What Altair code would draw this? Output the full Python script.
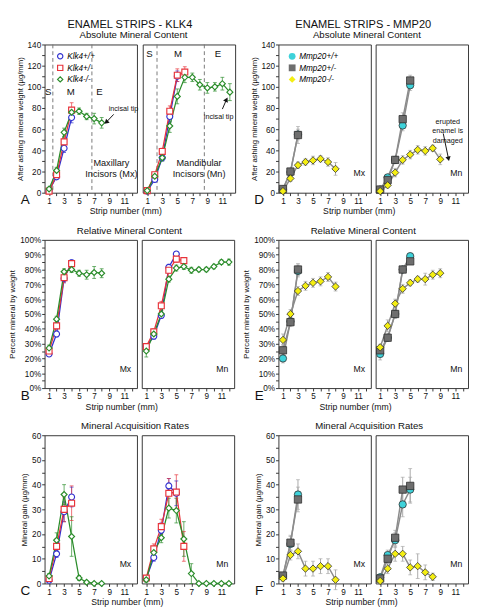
import altair as alt
import pandas as pd

FONT = "Liberation Sans"
STRIPS = list(range(1, 13))
KLK4_GENOS = ["Klk4+/+", "Klk4+/-", "Klk4-/-"]
MMP20_GENOS = ["Mmp20+/+", "Mmp20+/-", "Mmp20-/-"]

# ---------------- A: absolute mineral content, KLK4 (µg/mm) ----------------
A_MX_WT, A_MX_WT_SE = [2, 15, 42, 71], [1, 2, 4, 5]
A_MX_HET, A_MX_HET_SE = [1.5, 17, 48, 78], [1, 2, 4, 7]
A_MX_KO, A_MX_KO_SE = [3.5, 21, 57, 76, 77, 72, 70, 66], [1.5, 3, 4, 4, 3, 3, 5, 5]
A_MN_WT, A_MN_WT_SE = [1.5, 12.5, 33, 72, 110], [1, 2, 3, 5, 5]
A_MN_HET, A_MN_HET_SE = [2, 17, 39, 77, 111, 114], [1, 2, 3, 5, 6, 5]
A_MN_KO = [2, 15.5, 33, 63, 91, 109, 109, 102, 99, 100, 103, 95]
A_MN_KO_SE = [1, 2, 3, 6, 7, 5, 4, 5, 5, 4, 6, 8]

# ---------------- B: relative mineral content, KLK4 (%) ----------------
B_MX_WT, B_MX_WT_SE = [23, 36.5, 74, 84.5], [1.5, 2, 3, 2]
B_MX_HET, B_MX_HET_SE = [25, 42, 74.5, 84], [2, 2, 3, 1.5]
B_MX_KO, B_MX_KO_SE = [27, 46.5, 78.5, 80, 77.5, 76.5, 78, 77.5], [2, 2, 2, 2, 2, 3, 4, 3]
B_MN_WT, B_MN_WT_SE = [28, 35, 49, 81.5, 90.5], [2, 2, 2, 2, 1.5]
B_MN_HET, B_MN_HET_SE = [28, 38, 55.5, 79.5, 87, 86], [2, 2, 3, 2, 2, 1.5]
B_MN_KO = [25, 36.5, 50, 73.5, 81, 82, 79.5, 80, 80, 82, 85, 85]
B_MN_KO_SE = [4, 2, 2, 2, 2, 2, 2, 1.5, 1.5, 1.5, 1.5, 2]

# ---------------- C: mineral acquisition rates, KLK4 (µg/mm) ----------------
C_MX_WT, C_MX_WT_SE = [1.3, 12, 29, 35], [1, 1.5, 4, 4]
C_MX_HET, C_MX_HET_SE = [2, 15, 30, 32.5], [1, 3, 5, 7]
C_MX_KO, C_MX_KO_SE = [3, 17.5, 36, 19, 2.2, 0.5, 0, 0], [1, 3, 4, 8, 1, 0.5, 0, 0]
C_MN_WT, C_MN_WT_SE = [2, 10.5, 21.5, 39.5, 36.5], [1, 1.5, 3, 3, 5]
C_MN_HET, C_MN_HET_SE = [2.2, 14, 23, 36.5, 37, 15], [1, 2, 3, 6, 7, 6]
C_MN_KO = [1.5, 12.5, 18.5, 30.5, 29.5, 18, 4, 0, 0, 0, 0, 0]
C_MN_KO_SE = [1, 2, 2, 4, 5, 7, 4, 0.5, 0, 0, 0, 0]

# ---------------- D: absolute mineral content, MMP20 (µg/mm) ----------------
D_MX_WT, D_MX_WT_SE = [3, 19.5, 55], [1, 2, 5]
D_MX_HET, D_MX_HET_SE = [3.5, 20, 54.5], [1, 3, 8]
D_MX_KO, D_MX_KO_SE = [1.5, 13.5, 26, 29, 30.5, 32, 29, 22.5], [1, 3, 3, 3, 4, 3, 4, 6]
D_MN_WT, D_MN_WT_SE = [3, 14.5, 31, 63.5, 101.5], [1, 2, 3, 5, 5]
D_MN_HET, D_MN_HET_SE = [3, 12, 31, 69.5, 106], [1, 2, 3, 6, 5]
D_MN_KO, D_MN_KO_SE = [1.5, 7, 19, 31, 36, 40.5, 39.5, 42, 31.5], [1, 2, 4, 4, 4, 4, 4, 3, 5]

# ---------------- E: relative mineral content, MMP20 (%) ----------------
E_MX_WT, E_MX_WT_SE = [20, 45, 79], [3, 3, 4]
E_MX_HET, E_MX_HET_SE = [25.5, 44.5, 80], [4, 3, 4]
E_MX_KO, E_MX_KO_SE = [32.5, 50, 65.5, 69, 71, 72, 75, 68.5], [4, 3, 3, 3, 3, 3, 3, 3]
E_MN_WT, E_MN_WT_SE = [23, 34, 50, 80, 89], [4, 2, 2, 2, 2]
E_MN_HET, E_MN_HET_SE = [25.5, 34, 50, 80, 85.5], [2, 2, 3, 2, 2]
E_MN_KO, E_MN_KO_SE = [27.5, 42, 57, 67, 71, 73.5, 73.5, 76.5, 77.5], [2, 4, 3, 3, 2, 2, 4, 3, 3]

# ---------------- F: mineral acquisition rates, MMP20 (µg/mm) ----------------
F_MX_WT, F_MX_WT_SE = [3, 16, 36], [1, 3, 6]
F_MX_HET, F_MX_HET_SE = [3.2, 16.5, 34], [1, 3, 5]
F_MX_KO, F_MX_KO_SE = [2, 11.5, 13, 6, 6, 7, 7, 1.5], [1, 2, 3, 3, 3, 3, 3, 4]
F_MN_WT, F_MN_WT_SE = [2.5, 11.5, 17.5, 32, 38], [1, 2, 3, 5, 5]
F_MN_HET, F_MN_HET_SE = [2, 10, 18.5, 38, 39.5], [1, 2, 3, 5, 7]
F_MN_KO, F_MN_KO_SE = [1, 6, 12, 12, 6.5, 7, 4.5, 2.7], [0.5, 2, 3, 3, 3, 5, 3, 1.5]

# ---------------- annotations (data units) ----------------
A_MX_ZONE_LINES = [1.5, 6.7]
A_MN_ZONE_LINES = [2.3, 8.6]
ZONE_NAMES = ["S", "M", "E"]
A_MX_ZONE_X, A_MX_ZONE_Y = [0.9, 3.9, 7.7], 95
A_MN_ZONE_X, A_MN_ZONE_Y = [1.3, 5.1, 10.4], 131

KLK_COLORS = ["#3030d0", "#e8333a", "#2a8c2a"]
KLK_SHAPES = ["circle", "square", "diamond"]
MMP_FILLS = ["#3ed2da", "#6e6e6e", "#f4ee12"]
MMP_SHAPES = ["circle", "square", "diamond"]

W, H = 96, 154
XDOM = [0.4, 12.7]


def series(genos, triples):
    rows = []
    for g, (vals, errs) in zip(genos, triples):
        for i, (v, e) in enumerate(zip(vals, errs)):
            rows.append(dict(geno=g, strip=STRIPS[i], v=v, lo=v - e, hi=v + e))
    return pd.DataFrame(rows)


def indep(c):
    return c.resolve_scale(color="independent", stroke="independent", fill="independent",
                           shape="independent")


def make_sub(df, fam, ymax, tstep, lstep, suffix, ytitle, first, corner=None, letter=None,
             legend=False, extras=None):
    def X(field="strip"):
        return alt.X(f"{field}:Q", scale=alt.Scale(domain=XDOM, nice=False, zero=False),
                     axis=alt.Axis(values=STRIPS,
                                   labelExpr="datum.value % 2 == 1 ? datum.label : ''",
                                   title=None))

    def Y(field="v"):
        if first:
            ax = alt.Axis(values=list(range(0, ymax + 1, tstep)),
                          labelExpr=f"datum.value % {lstep} == 0 ? datum.value + '{suffix}' : ''",
                          title=ytitle)
        else:
            ax = None
        return alt.Y(f"{field}:Q", scale=alt.Scale(domain=[0, ymax], nice=False), axis=ax)

    base = alt.Chart(df)
    layers = []
    if extras:
        layers += extras(X, Y, pre=True)
    if fam == "klk":
        genos = KLK4_GENOS
        col = alt.Color("geno:N", scale=alt.Scale(domain=genos, range=KLK_COLORS), legend=None)
        layers.append(base.mark_rule(strokeWidth=1, opacity=0.7).encode(
            x=X(), y=Y("lo"), y2="hi:Q", color=col))
        for f in ("lo", "hi"):
            layers.append(base.mark_tick(orient="horizontal", size=4, thickness=1, opacity=0.7).encode(
                x=X(), y=Y(f), color=col))
        layers.append(base.mark_line(strokeWidth=1.3).encode(x=X(), y=Y(), color=col))
        if legend:
            leg = alt.Legend(title=None, orient="none", legendX=12, legendY=8, labelFont=FONT,
                             labelFontSize=8.5, labelFontStyle="italic", symbolSize=30,
                             symbolFillColor="white", symbolStrokeWidth=1.2, rowPadding=1,
                             labelOffset=3, padding=0)
        else:
            leg = None
        layers.append(base.mark_point(filled=True, fill="white", strokeWidth=1.2, opacity=1,
                                      size=38).encode(
            x=X(), y=Y(),
            stroke=alt.Stroke("geno:N", scale=alt.Scale(domain=genos, range=KLK_COLORS), legend=leg),
            shape=alt.Shape("geno:N", scale=alt.Scale(domain=genos, range=KLK_SHAPES), legend=leg)))
    else:
        genos = MMP20_GENOS
        layers.append(base.mark_rule(strokeWidth=1, color="#a8a8a8").encode(
            x=X(), y=Y("lo"), y2="hi:Q"))
        for f in ("lo", "hi"):
            layers.append(base.mark_tick(orient="horizontal", size=4, thickness=1, color="#a8a8a8").encode(
                x=X(), y=Y(f)))
        layers.append(base.mark_line(strokeWidth=1.5, color="#8c8c8c").encode(
            x=X(), y=Y(), detail="geno:N"))
        if legend:
            leg = alt.Legend(title=None, orient="none", legendX=10, legendY=8, labelFont=FONT,
                             labelFontSize=8.5, labelFontStyle="italic", symbolSize=50,
                             symbolStrokeColor="#333", symbolStrokeWidth=0.8, rowPadding=1,
                             labelOffset=3, padding=0)
        else:
            leg = None
        layers.append(base.mark_point(filled=True, stroke="#2e2e2e", strokeWidth=0.8, opacity=1,
                                      size=58).encode(
            x=X(), y=Y(),
            fill=alt.Fill("geno:N", scale=alt.Scale(domain=genos, range=MMP_FILLS), legend=leg),
            shape=alt.Shape("geno:N", scale=alt.Scale(domain=genos, range=MMP_SHAPES), legend=leg)))
    if extras:
        layers += extras(X, Y, pre=False)
    if corner:
        layers.append(alt.Chart(pd.DataFrame({"t": [corner]})).mark_text(
            font=FONT, fontSize=9, align="right", baseline="middle", color="#111").encode(
            x=alt.value(W - 6), y=alt.value(H - 20), text="t:N"))
    if letter:
        layers.append(alt.Chart(pd.DataFrame({"t": [letter]})).mark_text(
            font=FONT, fontSize=14, align="center", baseline="top", color="#111").encode(
            x=alt.value(-20), y=alt.value(H + 1), text="t:N"))
    return indep(alt.layer(*layers).properties(width=W, height=H))


def arrow(X, Y, x0, y0, x1, y1, ang):
    seg = pd.DataFrame({"strip": [x0], "v": [y0], "strip2": [x1], "v2": [y1]})
    head = pd.DataFrame({"strip": [x1], "v": [y1]})
    return [
        alt.Chart(seg).mark_rule(color="#111", strokeWidth=1).encode(
            x=X(), y=Y(), x2="strip2:Q", y2="v2:Q"),
        alt.Chart(head).mark_point(shape="triangle-up", filled=True, color="#111", opacity=1,
                                   size=30, angle=ang).encode(x=X(), y=Y()),
    ]


def text_layer(X, Y, xs, ys, texts, size):
    df = pd.DataFrame({"strip": xs, "v": ys, "t": texts})
    return alt.Chart(df).mark_text(font=FONT, fontSize=size, color="#111", lineBreak="\n",
                                   align="center", baseline="middle").encode(
        x=X(), y=Y(), text="t:N")


def a_mx_extras(X, Y, pre):
    if pre:
        return [alt.Chart(pd.DataFrame({"strip": A_MX_ZONE_LINES})).mark_rule(
            strokeDash=[4, 3], color="#777", strokeWidth=1).encode(x=X())]
    return ([text_layer(X, Y, A_MX_ZONE_X, [A_MX_ZONE_Y] * 3, ZONE_NAMES, 10),
             text_layer(X, Y, [9.3], [28], ["Maxillary\nIncisors (Mx)"], 9.5),
             text_layer(X, Y, [10.9], [79], ["incisal tip"], 7.5)]
            + arrow(X, Y, 9.6, 74, 8.6, 66.5, 228))


def a_mn_extras(X, Y, pre):
    if pre:
        return [alt.Chart(pd.DataFrame({"strip": A_MN_ZONE_LINES})).mark_rule(
            strokeDash=[4, 3], color="#777", strokeWidth=1).encode(x=X())]
    return ([text_layer(X, Y, A_MN_ZONE_X, [A_MN_ZONE_Y] * 3, ZONE_NAMES, 10),
             text_layer(X, Y, [7.9], [28], ["Mandibular\nIncisors (Mn)"], 9.5),
             text_layer(X, Y, [10.5], [71], ["incisal tip"], 7.5)]
            + arrow(X, Y, 11.0, 79, 11.55, 88, 27))


def d_mn_extras(X, Y, pre):
    if pre:
        return []
    return ([text_layer(X, Y, [10.0], [66.5], ["erupted\nenamel is\ndamaged"], 7.5)]
            + arrow(X, Y, 9.4, 56, 10.1, 32, 167))


def title(text, size=10, offset=0):
    return alt.TitleParams(text, fontSize=size, font=FONT, fontWeight="normal", color="#111",
                           anchor="middle", offset=offset, dx=8)


def cell(mx, mn, top_title):
    pair = indep(alt.hconcat(mx, mn, spacing=2).properties(
        title=alt.TitleParams("Strip number (mm)", orient="bottom", anchor="middle", fontSize=9,
                              font=FONT, fontWeight="normal", offset=0, color="#111")))
    return indep(alt.vconcat(pair, spacing=0).properties(title=title(top_title, 10, 0)))


ABS_T = "After ashing mineral weight (µg/mm)"
REL_T = "Percent mineral by weight"
GAIN_T = "Mineral gain (µg/mm)"

dfA_mx = series(KLK4_GENOS, [(A_MX_WT, A_MX_WT_SE), (A_MX_HET, A_MX_HET_SE), (A_MX_KO, A_MX_KO_SE)])
dfA_mn = series(KLK4_GENOS, [(A_MN_WT, A_MN_WT_SE), (A_MN_HET, A_MN_HET_SE), (A_MN_KO, A_MN_KO_SE)])
dfB_mx = series(KLK4_GENOS, [(B_MX_WT, B_MX_WT_SE), (B_MX_HET, B_MX_HET_SE), (B_MX_KO, B_MX_KO_SE)])
dfB_mn = series(KLK4_GENOS, [(B_MN_WT, B_MN_WT_SE), (B_MN_HET, B_MN_HET_SE), (B_MN_KO, B_MN_KO_SE)])
dfC_mx = series(KLK4_GENOS, [(C_MX_WT, C_MX_WT_SE), (C_MX_HET, C_MX_HET_SE), (C_MX_KO, C_MX_KO_SE)])
dfC_mn = series(KLK4_GENOS, [(C_MN_WT, C_MN_WT_SE), (C_MN_HET, C_MN_HET_SE), (C_MN_KO, C_MN_KO_SE)])
dfD_mx = series(MMP20_GENOS, [(D_MX_WT, D_MX_WT_SE), (D_MX_HET, D_MX_HET_SE), (D_MX_KO, D_MX_KO_SE)])
dfD_mn = series(MMP20_GENOS, [(D_MN_WT, D_MN_WT_SE), (D_MN_HET, D_MN_HET_SE), (D_MN_KO, D_MN_KO_SE)])
dfE_mx = series(MMP20_GENOS, [(E_MX_WT, E_MX_WT_SE), (E_MX_HET, E_MX_HET_SE), (E_MX_KO, E_MX_KO_SE)])
dfE_mn = series(MMP20_GENOS, [(E_MN_WT, E_MN_WT_SE), (E_MN_HET, E_MN_HET_SE), (E_MN_KO, E_MN_KO_SE)])
dfF_mx = series(MMP20_GENOS, [(F_MX_WT, F_MX_WT_SE), (F_MX_HET, F_MX_HET_SE), (F_MX_KO, F_MX_KO_SE)])
dfF_mn = series(MMP20_GENOS, [(F_MN_WT, F_MN_WT_SE), (F_MN_HET, F_MN_HET_SE), (F_MN_KO, F_MN_KO_SE)])

cellA = cell(make_sub(dfA_mx, "klk", 140, 10, 20, "", ABS_T, True, letter="A", legend=True, extras=a_mx_extras),
             make_sub(dfA_mn, "klk", 140, 10, 20, "", None, False, extras=a_mn_extras),
             "Absolute Mineral Content")
cellB = cell(make_sub(dfB_mx, "klk", 100, 5, 10, "%", REL_T, True, corner="Mx", letter="B"),
             make_sub(dfB_mn, "klk", 100, 5, 10, "%", None, False, corner="Mn"),
             "Relative Mineral Content")
cellC = cell(make_sub(dfC_mx, "klk", 60, 5, 10, "", GAIN_T, True, corner="Mx", letter="C"),
             make_sub(dfC_mn, "klk", 60, 5, 10, "", None, False, corner="Mn"),
             "Mineral Acquisition Rates")
cellD = cell(make_sub(dfD_mx, "mmp", 140, 10, 20, "", ABS_T, True, corner="Mx", letter="D", legend=True),
             make_sub(dfD_mn, "mmp", 140, 10, 20, "", None, False, corner="Mn", extras=d_mn_extras),
             "Absolute Mineral Content")
cellE = cell(make_sub(dfE_mx, "mmp", 100, 5, 10, "%", REL_T, True, corner="Mx", letter="E"),
             make_sub(dfE_mn, "mmp", 100, 5, 10, "%", None, False, corner="Mn"),
             "Relative Mineral Content")
cellF = cell(make_sub(dfF_mx, "mmp", 60, 5, 10, "", GAIN_T, True, corner="Mx", letter="F"),
             make_sub(dfF_mn, "mmp", 60, 5, 10, "", None, False, corner="Mn"),
             "Mineral Acquisition Rates")

left = indep(alt.vconcat(cellA, cellB, cellC, spacing=9).properties(
    title=title("ENAMEL STRIPS - KLK4", 11.5, 0)))
right = indep(alt.vconcat(cellD, cellE, cellF, spacing=9).properties(
    title=title("ENAMEL STRIPS - MMP20", 11.5, 0)))

chart = indep(alt.hconcat(left, right, spacing=6)).properties(padding=0).configure_view(
    stroke="#333", strokeWidth=1
).configure_axis(
    domain=False, grid=False, labelFont=FONT, titleFont=FONT, labelFontSize=8.5,
    titleFontSize=9, titleFontWeight="normal", labelColor="#111", titleColor="#111",
    tickColor="#333", tickSize=3, labelPadding=1, titlePadding=3
).configure_axisX(labelAngle=0).configure_axisY(titleFontSize=8)

chart.save("out.html", embed_options={"renderer": "svg", "actions": False})
